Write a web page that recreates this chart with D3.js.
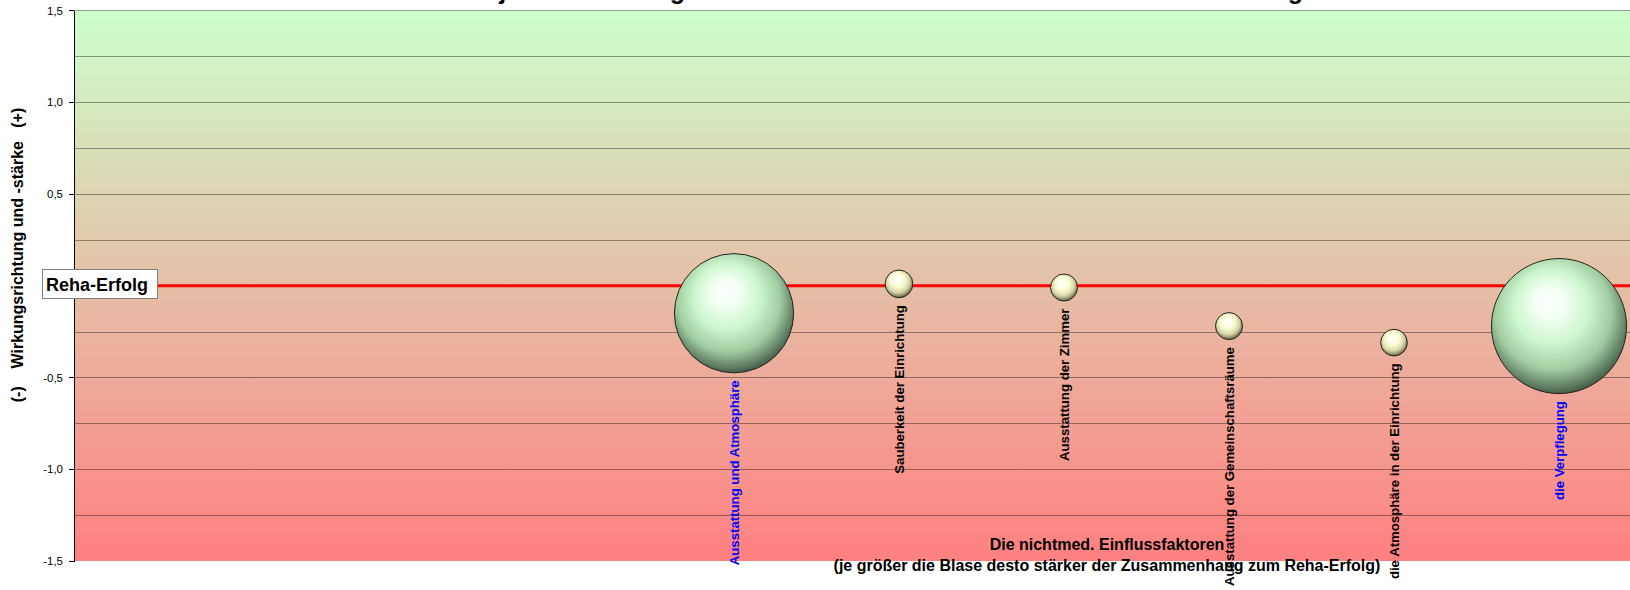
<!DOCTYPE html>
<html>
<head>
<meta charset="utf-8">
<script src="https://cdn.jsdelivr.net/npm/d3@7"></script>
<style>
body { margin: 0; background: #fff; }
svg { display: block; font-family: "Liberation Sans", Arial, sans-serif; }
</style>
</head>
<body>
<svg id="chart" width="1630" height="590"></svg>
<script>
// chart data
var factors = [
    "Ausstattung und Atmosphäre",
    "Sauberkeit der Einrichtung",
    "Ausstattung der Zimmer",
    "Ausstattung der Gemeinschaftsräume",
    "die Atmosphäre in der Einrichtung",
    "die Verpflegung"
];
var factorPos = [4, 5, 6, 7, 8, 9];
var effect = [-0.15, 0.01, -0.01, -0.22, -0.31, -0.22];
var strength = [0.78, 0.042, 0.04, 0.04, 0.039, 1.0];

var yTicks = [-1.5, -1.0, -0.5, 0, 0.5, 1.0, 1.5];
var gridValues = [-1.25, -1.0, -0.75, -0.5, -0.25, 0.25, 0.5, 0.75, 1.0, 1.25, 1.5];

var titleText = "Die subjektive Wertung der nichtmed. Einflussfaktoren auf den Reha-Erfolg";
var yTitle = "(-)    Wirkungsrichtung und -stärke   (+)";
var xTitle1 = "Die nichtmed. Einflussfaktoren";
var xTitle2 = "(je größer die Blase desto stärker der Zusammenhang zum Reha-Erfolg)";
var baseLabel = "Reha-Erfolg";

// layout
var W = 1630, H = 590;
var plotLeft = 74, plotTop = 10.4, plotBottom = 561;

var svg = d3.select("#chart");

var x = d3.scaleLinear().domain([0, 10]).range([plotLeft, 1724]);
var y = d3.scaleLinear().domain([-1.5, 1.5]).range([plotBottom, plotTop]);
var r = d3.scaleSqrt().domain([0, 1]).range([0, 67.5]);

var de = d3.formatLocale({decimal: ",", thousands: ".", grouping: [3], currency: ["", " €"], minus: "-"});
var fmt = de.format(".1f");
// the 0 label sits under the Reha-Erfolg box
const tickLabel = (d) => d === 0 ? "" : fmt(d);

// gradients
var defs = svg.append("defs");

var bg = defs.append("linearGradient")
    .attr("id", "bgGrad")
    .attr("x1", 0).attr("y1", 0).attr("x2", 0).attr("y2", 1);
bg.append("stop").attr("offset", "0%").attr("stop-color", "#ccffcc");
bg.append("stop").attr("offset", "100%").attr("stop-color", "#ff8080");

const sphere = (id, stops) => {
    let g = defs.append("radialGradient")
        .attr("id", id)
        .attr("cx", 0.47).attr("cy", 0.43).attr("r", 0.62)
        .attr("fx", 0.42).attr("fy", 0.3);
    stops.forEach(function(s) {
        g.append("stop").attr("offset", s[0]).attr("stop-color", s[1]);
    });
}
sphere("greenBall", [
    ["0%", "#ffffff"], ["18%", "#f4fff4"], ["45%", "#ccf6cc"],
    ["70%", "#a0cca0"], ["88%", "#5c7a60"], ["100%", "#2e3a2e"]
]);
sphere("yellowBall", [
    ["0%", "#ffffff"], ["18%", "#fffff2"], ["45%", "#f8f8cc"],
    ["70%", "#d2d2a2"], ["88%", "#7c7c5c"], ["100%", "#3c3c2c"]
]);

defs.append("clipPath").attr("id", "plotClip")
    .append("rect")
    .attr("x", plotLeft).attr("y", 0)
    .attr("width", W - plotLeft).attr("height", H);

// plot background
svg.append("rect")
    .attr("x", plotLeft).attr("y", plotTop)
    .attr("width", W - plotLeft).attr("height", plotBottom - plotTop)
    .attr("fill", "url(#bgGrad)");

// gridlines
var grid = svg.append("g")
    .attr("transform", "translate(" + plotLeft + ",0)")
    .call(d3.axisLeft(y).tickValues(gridValues).tickSize(-(W - plotLeft)).tickFormat(""));
grid.select(".domain").remove();
grid.selectAll(".tick line")
    .attr("stroke", "#000")
    .attr("stroke-opacity", 0.38)
    .attr("shape-rendering", "crispEdges");

// Reha-Erfolg line
svg.append("line")
    .attr("x1", plotLeft).attr("x2", W)
    .attr("y1", y(0)).attr("y2", y(0))
    .attr("stroke", "#ff0000")
    .attr("stroke-width", 3);

// bubbles
var idx = d3.range(factors.length);
var bubbles = svg.append("g").attr("clip-path", "url(#plotClip)");
bubbles.selectAll("circle")
    .data(idx)
    .enter()
    .append("circle")
    .attr("cx", function(i) { return x(factorPos[i]); })
    .attr("cy", function(i) { return y(effect[i]); })
    .attr("r", function(i) { return r(strength[i]); })
    .attr("fill", function(i) { return strength[i] > 0.5 ? "url(#greenBall)" : "url(#yellowBall)"; })
    .attr("stroke", "#222")
    .attr("stroke-width", 1);

// bubble labels
svg.append("g").selectAll("text")
    .data(idx)
    .enter()
    .append("text")
    .attr("transform", function(i) {
        let cx = x(factorPos[i]) + 5;
        let top = y(effect[i]) + r(strength[i]) + 7.5;
        return "translate(" + cx + "," + top + ") rotate(-90)";
    })
    .attr("text-anchor", "end")
    .attr("font-size", 13.2)
    .attr("font-weight", "bold")
    .attr("fill", function(i) { return strength[i] > 0.5 ? "#0000ff" : "#000"; })
    .text(function(i) { return factors[i]; });

// y axis
var yAxis = svg.append("g")
    .attr("transform", "translate(" + plotLeft + ",0)")
    .call(d3.axisLeft(y).tickValues(yTicks).tickSize(5).tickSizeOuter(0).tickPadding(6).tickFormat(tickLabel));
yAxis.select(".domain").attr("stroke", "#000").attr("shape-rendering", "crispEdges");
yAxis.selectAll(".tick line").attr("stroke", "#000").attr("shape-rendering", "crispEdges");
yAxis.selectAll(".tick text")
    .attr("font-family", "Liberation Sans, Arial, sans-serif")
    .attr("font-size", 11.5)
    .attr("fill", "#000");

// y axis title
svg.append("text")
    .attr("transform", "translate(23,255) rotate(-90)")
    .attr("text-anchor", "middle")
    .attr("font-size", 16)
    .attr("font-weight", "bold")
    .style("white-space", "pre")
    .text(yTitle);

// Reha-Erfolg box
svg.append("rect")
    .attr("x", 42.5).attr("y", 269.5)
    .attr("width", 115).attr("height", 29)
    .attr("fill", "#fff")
    .attr("stroke", "#808080");
svg.append("text")
    .attr("x", 46).attr("y", 290.5)
    .attr("font-size", 18)
    .attr("font-weight", "bold")
    .text(baseLabel);

// chart title (cut at the top)
svg.append("text")
    .attr("x", 856).attr("y", -1)
    .attr("text-anchor", "middle")
    .attr("font-size", 25)
    .attr("font-weight", "bold")
    .text(titleText);

// x axis title
svg.append("text")
    .attr("x", 1107).attr("y", 550)
    .attr("text-anchor", "middle")
    .attr("font-size", 16)
    .attr("font-weight", "bold")
    .text(xTitle1);
svg.append("text")
    .attr("x", 1107).attr("y", 571)
    .attr("text-anchor", "middle")
    .attr("font-size", 16)
    .attr("font-weight", "bold")
    .text(xTitle2);
</script>
</body>
</html>
